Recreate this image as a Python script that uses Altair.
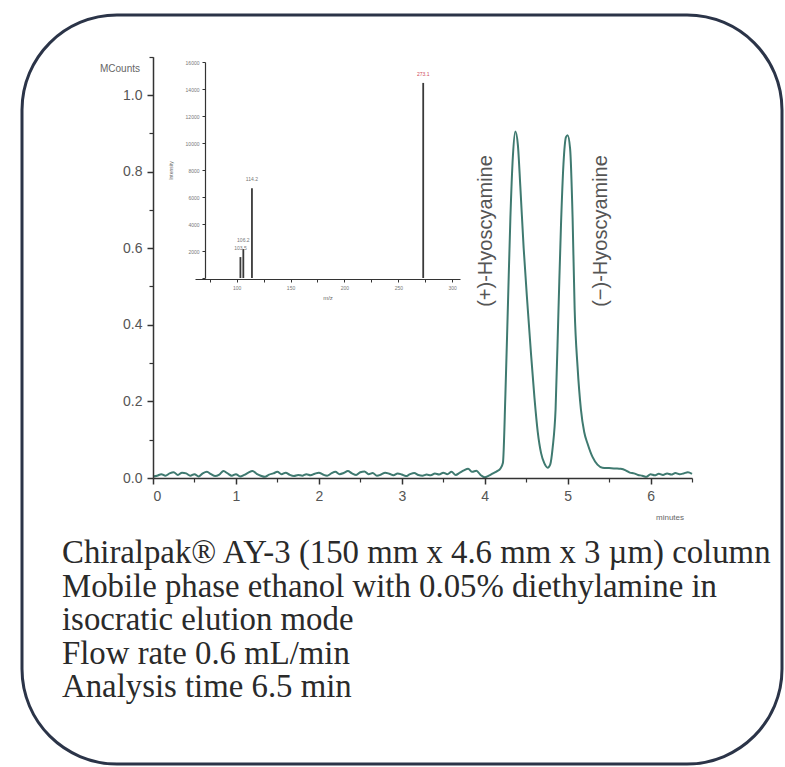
import altair as alt
import pandas as pd

# ---- Chromatogram: retention time (min) vs detector response (MCounts) ----
time_min = [
    0.00, 0.05, 0.10, 0.15, 0.20, 0.25, 0.30, 0.35, 0.40, 0.45,
    0.50, 0.55, 0.60, 0.65, 0.70, 0.75, 0.80, 0.85, 0.90, 0.95,
    1.00, 1.05, 1.10, 1.15, 1.20, 1.25, 1.30, 1.35, 1.40, 1.45,
    1.50, 1.55, 1.60, 1.65, 1.70, 1.75, 1.80, 1.85, 1.90, 1.95,
    2.00, 2.05, 2.10, 2.15, 2.20, 2.25, 2.30, 2.35, 2.40, 2.45,
    2.50, 2.55, 2.60, 2.65, 2.70, 2.75, 2.80, 2.85, 2.90, 2.95,
    3.00, 3.05, 3.10, 3.15, 3.20, 3.25, 3.30, 3.35, 3.40, 3.45,
    3.50, 3.55, 3.60, 3.65, 3.70, 3.75, 3.80, 3.85, 3.90, 3.95,
    4.00, 4.05, 4.10, 4.15, 4.19, 4.22, 4.25, 4.28, 4.31, 4.34,
    4.37, 4.40, 4.43, 4.47, 4.52, 4.56, 4.60, 4.64, 4.68, 4.72,
    4.76, 4.79, 4.82, 4.855, 4.89, 4.92, 4.95, 4.98, 5.00, 5.03,
    5.06, 5.085, 5.12, 5.16, 5.20, 5.24, 5.30, 5.36, 5.42, 5.50,
    5.58, 5.64, 5.70, 5.75, 5.80, 5.85, 5.90, 5.95, 6.00, 6.05,
    6.10, 6.15, 6.20, 6.25, 6.30, 6.35, 6.40, 6.45, 6.50,
]
signal_mc = [
    0.004, 0.006, 0.010, 0.006, 0.012, 0.015, 0.008, 0.014, 0.012, 0.006,
    0.010, 0.004, 0.012, 0.016, 0.010, 0.005, 0.009, 0.018, 0.012, 0.006,
    0.010, 0.004, 0.008, 0.014, 0.018, 0.011, 0.006, 0.003, 0.009, 0.012,
    0.016, 0.010, 0.014, 0.008, 0.005, 0.008, 0.006, 0.010, 0.007, 0.011,
    0.014, 0.009, 0.006, 0.012, 0.016, 0.010, 0.013, 0.018, 0.012, 0.008,
    0.015, 0.017, 0.010, 0.013, 0.006, 0.009, 0.014, 0.011, 0.007, 0.012,
    0.009, 0.005, 0.010, 0.013, 0.008, 0.006, 0.009, 0.007, 0.012, 0.009,
    0.014, 0.010, 0.016, 0.008, 0.014, 0.020, 0.024, 0.016, 0.019, 0.008,
    0.002, 0.006, 0.012, 0.018, 0.025, 0.040, 0.220, 0.450, 0.680, 0.840,
    0.905, 0.870, 0.760, 0.600, 0.440, 0.320, 0.210, 0.120, 0.065, 0.038,
    0.027, 0.035, 0.080, 0.180, 0.440, 0.660, 0.820, 0.890, 0.895, 0.860,
    0.680, 0.440, 0.290, 0.180, 0.120, 0.090, 0.055, 0.035, 0.027, 0.026,
    0.025, 0.024, 0.020, 0.014, 0.012, 0.008, 0.006, 0.003, 0.010, 0.007,
    0.011, 0.008, 0.012, 0.009, 0.013, 0.010, 0.012, 0.015, 0.011,
]

# ---- Inset: mass spectrum (m/z vs intensity) ----
ms_mz = [103.5, 106.2, 114.2, 273.1]
ms_intensity = [1550, 2150, 6650, 14450]
ms_label = ["103.5", "106.2", "114.2", "273.1"]
ms_label_color = ["#777777", "#777777", "#777777", "#d04a5a"]

# ---- Axis ticks ----
main_x_ticks = [0, 1, 2, 3, 4, 5, 6]
main_x_minor = [0.5, 1.5, 2.5, 3.5, 4.5, 5.5, 6.5]
main_y_ticks = [0.0, 0.2, 0.4, 0.6, 0.8, 1.0]
main_y_minor = [0.1, 0.3, 0.5, 0.7, 0.9, 1.1]
inset_x_ticks = [75, 100, 125, 150, 175, 200, 225, 250, 275, 300]
inset_y_ticks = [0, 2000, 4000, 6000, 8000, 10000, 12000, 14000, 16000]

peak_names = ["(+)-Hyoscyamine", "(\u2212)-Hyoscyamine"]
method_lines = [
    "Chiralpak\u00ae AY-3 (150 mm x 4.6 mm x 3 \u00b5m) column",
    "Mobile phase ethanol with 0.05% diethylamine in",
    "isocratic elution mode",
    "Flow rate 0.6 mL/min",
    "Analysis time 6.5 min",
]

W, H = 785, 767
AXIS = "#333333"
LABEL = "#555555"
SANS = "Liberation Sans"
SERIF = "Liberation Serif"

chrom = pd.DataFrame({"t": time_min, "s": signal_mc})
ms = pd.DataFrame({"mz": ms_mz, "inten": ms_intensity,
                   "lab": ms_label, "col": ms_label_color})
one = pd.DataFrame({"k": [0]})

x_main = alt.Scale(domain=[0, 6.5], range=[153, 692], nice=False, zero=False)
y_main = alt.Scale(domain=[0, 1.1], range=[478, 56.7], nice=False)
x_ins = alt.Scale(domain=[66, 302.6], range=[195, 460], nice=False, zero=False)
y_ins = alt.Scale(domain=[0, 16000], range=[278, 62], nice=False)

# rounded frame (outline only)
frame = alt.Chart(one).mark_rect(
    cornerRadius=95, fillOpacity=0, stroke="#2b3448", strokeWidth=3
).encode(x=alt.value(22), x2=alt.value(782), y=alt.value(15), y2=alt.value(764))

# chromatogram trace with the major axes
trace = alt.Chart(chrom).mark_line(
    color="#3f7a70", strokeWidth=2, interpolate="monotone"
).encode(
    x=alt.X("t:Q", scale=x_main, axis=alt.Axis(
        orient="bottom", offset=-289, values=main_x_ticks, format="d",
        title=None, grid=False, tickSize=6, tickWidth=1.5, tickColor=AXIS,
        domainColor=AXIS, domainWidth=1.5, labelFont=SANS, labelFontSize=14,
        labelColor=LABEL, labelPadding=5, zindex=1)),
    y=alt.Y("s:Q", scale=y_main, axis=alt.Axis(
        orient="left", offset=-153, values=main_y_ticks, format=".1f",
        title=None, grid=False, tickSize=6, tickWidth=1.5, tickColor=AXIS,
        domainColor=AXIS, domainWidth=1.5, labelFont=SANS, labelFontSize=14,
        labelColor=LABEL, labelPadding=5, zindex=1)),
)

# minor ticks on the main axes
minor = alt.Chart(chrom).mark_point(opacity=0).encode(
    x=alt.X("t:Q", scale=x_main, axis=alt.Axis(
        orient="bottom", offset=-289, values=main_x_minor, labels=False,
        domain=False, title=None, grid=False, tickSize=4, tickWidth=1.2,
        tickColor=AXIS, zindex=1)),
    y=alt.Y("s:Q", scale=y_main, axis=alt.Axis(
        orient="left", offset=-153, values=main_y_minor, labels=False,
        domain=False, title=None, grid=False, tickSize=4, tickWidth=1.2,
        tickColor=AXIS, zindex=1)),
)

# inset mass spectrum
ms_bars = alt.Chart(ms).mark_bar(size=1.8, color="#3a3a3a").encode(
    x=alt.X("mz:Q", scale=x_ins, axis=alt.Axis(
        orient="bottom", offset=-488, values=inset_x_ticks,
        labelExpr="datum.value % 50 == 0 ? datum.label : ''",
        title="m/z", titleFont=SANS, titleFontSize=6, titleFontWeight="normal",
        titleColor="#666666", titlePadding=4, grid=False, tickSize=3,
        tickColor=AXIS, domainColor=AXIS, domainWidth=1.2, labelFont=SANS,
        labelFontSize=5, labelColor="#777777", labelPadding=3, zindex=1)),
    y=alt.Y("inten:Q", scale=y_ins, axis=alt.Axis(
        orient="left", offset=-205, values=inset_y_ticks,
        labelExpr="datum.value == 0 ? '' : datum.label", format="d",
        title="Intensity", titleFont=SANS, titleFontSize=5,
        titleFontWeight="normal", titleColor="#666666", titlePadding=12,
        grid=False, tickSize=3, tickColor=AXIS, domainColor=AXIS,
        domainWidth=1.2, labelFont=SANS, labelFontSize=5,
        labelColor="#777777", labelPadding=3, zindex=1)),
)
ms_text = alt.Chart(ms).mark_text(
    font=SANS, fontSize=5, dy=-6, baseline="bottom"
).encode(x="mz:Q", y="inten:Q", text="lab:N",
         color=alt.Color("col:N", scale=None))
inset = alt.layer(ms_bars, ms_text)

# annotations
def note(txt, x, y, size, color, font=SANS, angle=0, align="center"):
    return alt.Chart(one).mark_text(
        text=txt, font=font, fontSize=size, color=color, angle=angle,
        align=align, baseline="middle"
    ).encode(x=alt.value(x), y=alt.value(y))

notes = [
    note(peak_names[0], 486, 231, 20, "#555555", angle=270),
    note(peak_names[1], 601, 231, 20, "#555555", angle=270),
    note("MCounts", 120, 69, 10, "#666666"),
    note("minutes", 670, 518, 8, "#666666"),
]
for i, line in enumerate(method_lines):
    notes.append(note(line, 62, 553 + i * 33.5, 32.8, "#2a2a2a",
                      font=SERIF, align="left"))

chart = alt.layer(frame, trace, minor, inset, *notes).resolve_scale(
    x="independent", y="independent"
).resolve_axis(
    x="independent", y="independent"
).properties(
    width=W, height=H, autosize=alt.AutoSizeParams(type="none"),
    padding=0, background="white"
).configure_view(strokeWidth=0)

chart.save("out.html", embed_options={"renderer": "svg", "actions": False})
